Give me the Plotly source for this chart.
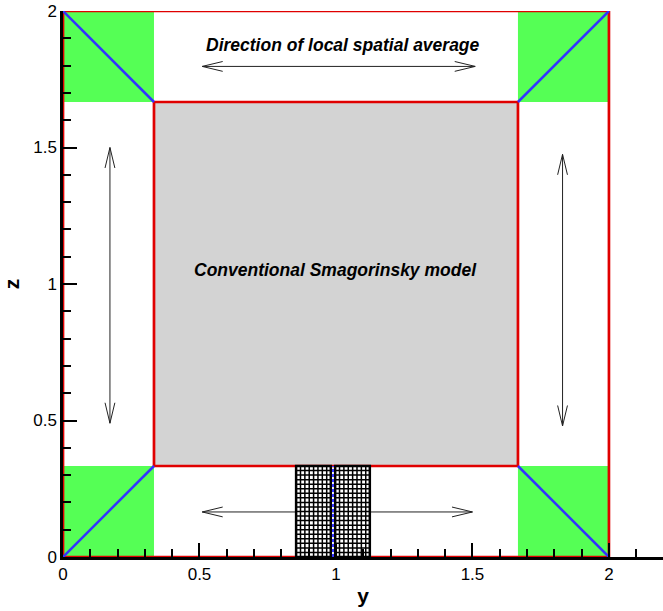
import plotly.graph_objects as go

# Domain regions (y, z coordinates)
third = 1.0 / 3.0
corner_boxes = [  # (y0, y1, z0, z1) green corner cells
    (0.0, third, 0.0, third),
    (0.0, third, 2 - third, 2.0),
    (2 - third, 2.0, 2 - third, 2.0),
    (2 - third, 2.0, 0.0, third),
]
core_box = (third, 2 - third, third, 2 - third)

# Corner diagonals
diag_y = [[0.0, third], [0.0, third], [2.0, 2 - third], [2.0, 2 - third]]
diag_z = [[0.0, third], [2.0, 2 - third], [2.0, 2 - third], [0.0, third]]

# Local mesh block near the bottom wall
mesh_y_left = [0.854, 0.870, 0.886, 0.902, 0.918, 0.934, 0.950, 0.966, 0.981]
mesh_y_right = [0.997, 1.013, 1.029, 1.045, 1.061, 1.077, 1.093, 1.109, 1.124]
mesh_z = [0.0, 0.0167, 0.0333, 0.05, 0.0667, 0.0833, 0.1, 0.1167, 0.1333, 0.15,
          0.1667, 0.1833, 0.2, 0.2167, 0.2333, 0.25, 0.2667, 0.2833, 0.3,
          0.3167, 0.3333]
mesh_center = 0.989

# Averaging-direction arrows: (start y, start z, end y, end z)
arrows = [
    (0.51, 1.797, 1.51, 1.797),
    (0.51, 0.165, 1.50, 0.165),
    (0.172, 0.49, 0.172, 1.50),
    (1.83, 0.48, 1.83, 1.475),
]

x_ticks = [0, 0.5, 1, 1.5, 2]
x_tick_text = ["0", "0.5", "1", "1.5", "2"]
z_ticks = [0, 0.5, 1, 1.5, 2]
z_tick_text = ["0", "0.5", "1", "1.5", "2"]

GREEN = "#55ff55"
GRAY = "#d3d3d3"
RED = "#e00000"
BLUE = "#3333ff"

fig = go.Figure()

shapes = []
for (a, b, c, d) in corner_boxes:
    shapes.append(dict(type="rect", xref="x", yref="y", x0=a, x1=b, y0=c, y1=d,
                       fillcolor=GREEN, line=dict(width=0), layer="below"))
shapes.append(dict(type="rect", xref="x", yref="y", x0=core_box[0], x1=core_box[1],
                   y0=core_box[2], y1=core_box[3], fillcolor=GRAY,
                   line=dict(width=0), layer="below"))


def add_line(xs, ys, color, width, dash="solid"):
    fig.add_trace(go.Scatter(x=xs, y=ys, mode="lines", cliponaxis=False,
                             line=dict(color=color, width=width, dash=dash),
                             hoverinfo="skip", showlegend=False))


# Arrows (thin shafts with open heads)
hl, hw = 0.075, 0.018
for (x0, y0, x1, y1) in arrows:
    xs, ys = [x0, x1, None], [y0, y1, None]
    if y0 == y1:
        for (tx, sgn) in ((x0, 1), (x1, -1)):
            xs += [tx + sgn * hl, tx, tx + sgn * hl, None]
            ys += [y0 + hw, y0, y0 - hw, None]
    else:
        for (ty, sgn) in ((y0, 1), (y1, -1)):
            xs += [x0 - hw, x0, x0 + hw, None]
            ys += [ty + sgn * hl, ty, ty + sgn * hl, None]
    add_line(xs, ys, "#222222", 1)

# Red outlines: outer box and core box
add_line([0, 2, 2, 0, 0], [0, 0, 2, 2, 0], RED, 2.7)
add_line([core_box[0], core_box[1], core_box[1], core_box[0], core_box[0]],
         [core_box[2], core_box[2], core_box[3], core_box[3], core_box[2]], RED, 2.7)

# Blue diagonals in the corners
for dy, dz in zip(diag_y, diag_z):
    add_line(dy, dz, BLUE, 2.5)

# Mesh block
for block in (mesh_y_left, mesh_y_right):
    fig.add_trace(go.Scatter(x=[block[0], block[-1], block[-1], block[0]],
                             y=[0, 0, third, third], fill="toself",
                             fillcolor="white", mode="none",
                             hoverinfo="skip", showlegend=False))
    xs, ys = [], []
    for v in block:
        xs += [v, v, None]
        ys += [mesh_z[0], mesh_z[-1], None]
    for v in mesh_z:
        xs += [block[0], block[-1], None]
        ys += [v, v, None]
    add_line(xs, ys, "black", 1.5)
    add_line([block[0], block[-1], block[-1], block[0], block[0]],
             [0, 0, third, third, 0], "black", 2.5)
add_line([mesh_center, mesh_center], [0, third], BLUE, 2, dash="3px,2px")

fig.add_annotation(x=1.026, y=1.877, text="<b><i>Direction of local spatial average</i></b>",
                   showarrow=False, font=dict(size=17.5, color="black"))
fig.add_annotation(x=1.0, y=1.05, text="<b><i>Conventional Smagorinsky model</i></b>",
                   showarrow=False, font=dict(size=17.5, color="black"))

axis_common = dict(showline=True, linecolor="black", linewidth=2.5, ticks="inside",
                   ticklen=14, tickwidth=2, tickcolor="black", showgrid=False,
                   zeroline=False, layer="above traces",
                   tickfont=dict(size=17, color="black"),
                   minor=dict(ticks="inside", ticklen=8, tickwidth=1.5,
                              tickcolor="black", dtick=0.1, showgrid=False))

fig.update_layout(
    width=663, height=611,
    margin=dict(l=63, r=0, t=11, b=54),
    paper_bgcolor="white", plot_bgcolor="white",
    font=dict(family="Liberation Sans, Arial, sans-serif", color="black"),
    shapes=shapes,
    xaxis=dict(range=[0, 2.198], tickvals=x_ticks, ticktext=x_tick_text,
               title=dict(text="<b>y</b>", font=dict(size=21), standoff=6),
               **axis_common),
    yaxis=dict(range=[0, 2], tickvals=z_ticks, ticktext=z_tick_text,
               title=dict(text="<b>z</b>", font=dict(size=21), standoff=10),
               **axis_common),
)

fig.write_html("out.html")
